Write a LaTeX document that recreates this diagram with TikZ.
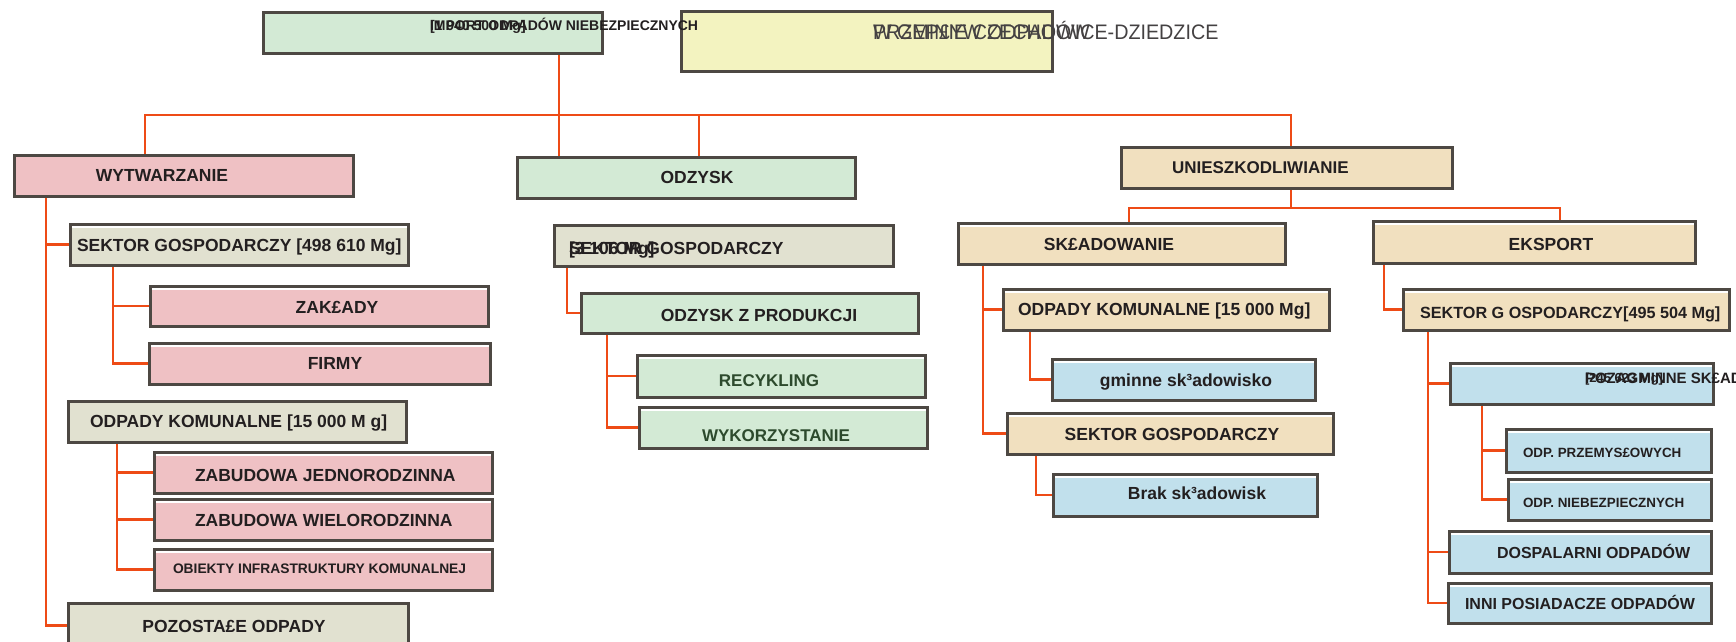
\documentclass[tikz,border=0pt]{standalone}
\usepackage{fontspec}
\setmainfont{Liberation Sans}
\usepackage{graphicx}
\definecolor{cgreen}{HTML}{D3EAD5}
\definecolor{cpink}{HTML}{EFC1C4}
\definecolor{cbeige}{HTML}{F1E0BF}
\definecolor{cgray}{HTML}{E1E1D0}
\definecolor{cblue}{HTML}{C1E0EC}
\definecolor{cyellow}{HTML}{F3F3C0}
\definecolor{bordc}{HTML}{4D4843}
\definecolor{conc}{HTML}{EE4B16}
\definecolor{txtc}{HTML}{231F20}
\definecolor{pixg}{HTML}{2D4A2D}
\tikzset{
  box/.style={draw=bordc, line width=3pt, inner sep=0pt, outer sep=0pt, anchor=north west},
  hl/.style={path picture={\draw[white,line width=2.5pt] ([yshift=-3pt]path picture bounding box.north west) -- ([yshift=-3pt]path picture bounding box.north east);}},
  con/.style={draw=conc, line width=2.8pt},
  lb/.style={inner sep=0pt, outer sep=0pt, text=txtc, anchor=base, yshift={-0.358*#1}, font=\bfseries\fontsize{#1}{#1}\selectfont},
  lb/.default=17.5,
  lbw/.style={lb=#1, anchor=base west},
  lbw/.default=17.5,
  rg/.style={inner sep=0pt, outer sep=0pt, text=txtc!85, anchor=base west, yshift={-0.358*21}, font=\fontsize{21}{21}\selectfont},
}
\newcommand\bx[7][]{\node[box,fill=#3,minimum width={#6-#4},minimum height={#7-#5},#1] (#2) at (#4,#5) {};}
\newcommand\allboxes{%
\bx{imp}{cgreen}{263}{12}{602}{53}
\bx{yel}{cyellow}{681}{11}{1052}{71}
\bx{wyt}{cpink}{14}{155}{353}{196}
\bx{odz}{cgreen}{517}{157}{855}{198}
\bx{uni}{cbeige}{1121}{147}{1452}{188}
\bx[hl]{wsek}{cgray}{70}{224}{408}{265}
\bx[hl]{zak}{cpink}{150}{286}{488}{326}
\bx[hl]{fir}{cpink}{149}{343}{490}{384}
\bx{wkom}{cgray}{68}{401}{406}{442}
\bx[hl]{jed}{cpink}{154}{452}{492}{493}
\bx[hl]{wie}{cpink}{154}{499}{492}{540}
\bx[hl]{obi}{cpink}{154}{549}{492}{590}
\bx{poz}{cgray}{68}{603}{408}{648}
\bx{osek}{cgray}{554}{225}{893}{266}
\bx{oprod}{cgreen}{581}{293}{918}{333}
\bx[hl]{rec}{cgreen}{637}{355}{925}{397}
\bx[hl]{wyk}{cgreen}{639}{407}{927}{448}
\bx[hl]{skl}{cbeige}{958}{223}{1285}{264}
\bx[hl]{eks}{cbeige}{1373}{221}{1695}{263}
\bx[hl]{ukom}{cbeige}{1003}{289}{1329}{330}
\bx[hl]{gmi}{cblue}{1052}{359}{1315}{400}
\bx[hl]{usek}{cbeige}{1007}{413}{1333}{454}
\bx[hl]{brak}{cblue}{1053}{474}{1317}{516}
\bx[hl]{esek}{cbeige}{1403}{289}{1729}{330}
\bx[hl]{poza}{cblue}{1450}{363}{1713}{404}
\bx[hl]{prz}{cblue}{1506}{429}{1711}{472}
\bx[hl]{nie}{cblue}{1508}{479}{1711}{520}
\bx[hl]{dosp}{cblue}{1449}{531}{1711}{573}
\bx[hl]{inni}{cblue}{1448}{583}{1711}{623}}
\begin{document}
\begin{tikzpicture}[x=1pt,y=-1pt]
\useasboundingbox (0,0) rectangle (1736,641);
\clip (0,0) rectangle (1736,641);
\fill[white] (0,0) rectangle (1736,641);

% boxes first, so that connectors can refer to them
\allboxes

% ---------- connectors ----------
\coordinate (bar) at (0,115);
\coordinate (ubar) at (0,208);
\coordinate (impd) at ([xshift=296pt]imp.south west);
\coordinate (wytt) at ([xshift=131pt]wyt.north west);
\coordinate (odzt) at ([xshift=182pt]odz.north west);
\coordinate (unit) at ([xshift=170pt]uni.north west);
\coordinate (unib) at ([xshift=170pt]uni.south west);
\coordinate (sklt) at ([xshift=171pt]skl.north west);
\coordinate (ekst) at ([xshift=187pt]eks.north west);
\coordinate (wv) at ([xshift=32pt]wyt.south west);
\coordinate (wsv) at ([xshift=43pt]wsek.south west);
\coordinate (wkv) at ([xshift=49pt]wkom.south west);
\coordinate (osv) at ([xshift=13pt]osek.south west);
\coordinate (opv) at ([xshift=26pt]oprod.south west);
\coordinate (sv) at ([xshift=25pt]skl.south west);
\coordinate (ukv) at ([xshift=27pt]ukom.south west);
\coordinate (usv) at ([xshift=29pt]usek.south west);
\coordinate (ev) at ([xshift=11pt]eks.south west);
\coordinate (esv) at ([xshift=25pt]esek.south west);
\coordinate (pzv) at ([xshift=32pt]poza.south west);

\begin{scope}[con]
\draw (impd) -- (impd |- odz.north);
\draw (wytt) |- (unit |- bar) -- (unit);
\draw (odzt) -- (odzt |- bar);
\draw (unib) -- (unib |- ubar);
\draw (sklt) |- (ekst |- ubar) -- (ekst);
\draw (wv) |- (wsek.west);
\draw (wv) |- (poz.west);
\draw (wsv) |- (zak.west);
\draw (wsv) |- (fir.west);
\draw (wkv) |- (jed.west);
\draw (wkv) |- (wie.west);
\draw (wkv) |- (obi.west);
\draw (osv) |- (oprod.west);
\draw (opv) |- (rec.west);
\draw (opv) |- (wyk.west);
\draw (sv) |- (ukom.west);
\draw (sv) |- (usek.west);
\draw (ukv) |- (gmi.west);
\draw (usv) |- (brak.west);
\draw (ev) |- (esek.west);
\draw (esv) |- (poza.west);
\draw (esv) |- (dosp.west);
\draw (esv) |- (inni.west);
\draw (pzv) |- (prz.west);
\draw (pzv) |- (nie.west);
\end{scope}

% boxes again, over the connector ends
\allboxes

% ---------- texts ----------
\node[rg] (t-yel1) at (873,32) {\scalebox{0.94}[1]{W GMINIE CZECHOWICE-DZIEDZICE}};
\node[rg] (t-yel2) at (873,32) {\scalebox{0.94}[1]{PRZEP£YW ODPADÓW}};
\node[lbw=14] (t-imp1) at (430,25) {IMPORT ODPADÓW NIEBEZPIECZNYCH};
\node[lbw=14] (t-imp2) at (430,25) {[1 940 500 Mg]};

\node[lb] (t-wyt) at (162,175) {WYTWARZANIE};
\node[lb] (t-odz) at (697,177) {ODZYSK};
\node[lbw=17] (t-uni) at (1172,167) {UNIESZKODLIWIANIE};

\node[lbw] (t-wsek) at (77,245) {SEKTOR GOSPODARCZY [498 610 Mg]};
\node[lb] (t-zak) at (337,307) {ZAK£ADY};
\node[lb] (t-fir) at (335,363) {FIRMY};
\node[lbw] (t-wkom) at (90,421) {ODPADY KOMUNALNE [15 000 M g]};
\node[lbw] (t-jed) at (195,475) {ZABUDOWA JEDNORODZINNA};
\node[lbw] (t-wie) at (195,520) {ZABUDOWA WIELORODZINNA};
\node[lbw=13.8] (t-obi) at (173,569) {OBIEKTY INFRASTRUKTURY KOMUNALNEJ};
\node[lb] (t-poz) at (234,626) {POZOSTA£E ODPADY};

\node[lbw] (t-osek1) at (569,248) {SEKTOR GOSPODARCZY};
\node[lbw] (t-osek2) at (569,248) {[3 106 Mg]};
\node[lb] (t-oprod) at (759,315) {ODZYSK Z PRODUKCJI};
\node[lb=17, text=pixg] (t-rec) at (769,380) {RECYKLING};
\node[lb=17, text=pixg] (t-wyk) at (776,435) {WYKORZYSTANIE};

\node[lb] (t-skl) at (1109,244) {SK£ADOWANIE};
\node[lb] (t-eks) at (1551,244) {EKSPORT};
\node[lbw] (t-ukom) at (1018,309) {ODPADY KOMUNALNE [15 000 Mg]};
\node[lb] (t-gmi) at (1186,380) {gminne sk³adowisko};
\node[lb] (t-usek) at (1172,434) {SEKTOR GOSPODARCZY};
\node[lb] (t-brak) at (1197,493) {Brak sk³adowisk};

\node[lbw=16.2] (t-esek) at (1420,313) {SEKTOR G OSPODARCZY[495 504 Mg]};
\node[lbw=15] (t-poza1) at (1585,378) {POZAGMINNE SK£ADOWISKA};
\node[lbw=13] (t-poza2) at (1585,378) {[245 623 Mg]};
\node[lbw=13.4] (t-prz) at (1523,453) {ODP. PRZEMYS£OWYCH};
\node[lbw=13.4] (t-nie) at (1523,503) {ODP. NIEBEZPIECZNYCH};
\node[lbw=16] (t-dosp) at (1497,553) {DOSPALARNI ODPADÓW};
\node[lbw=16] (t-inni) at (1465,604) {INNI POSIADACZE ODPADÓW};
\end{tikzpicture}
\end{document}
